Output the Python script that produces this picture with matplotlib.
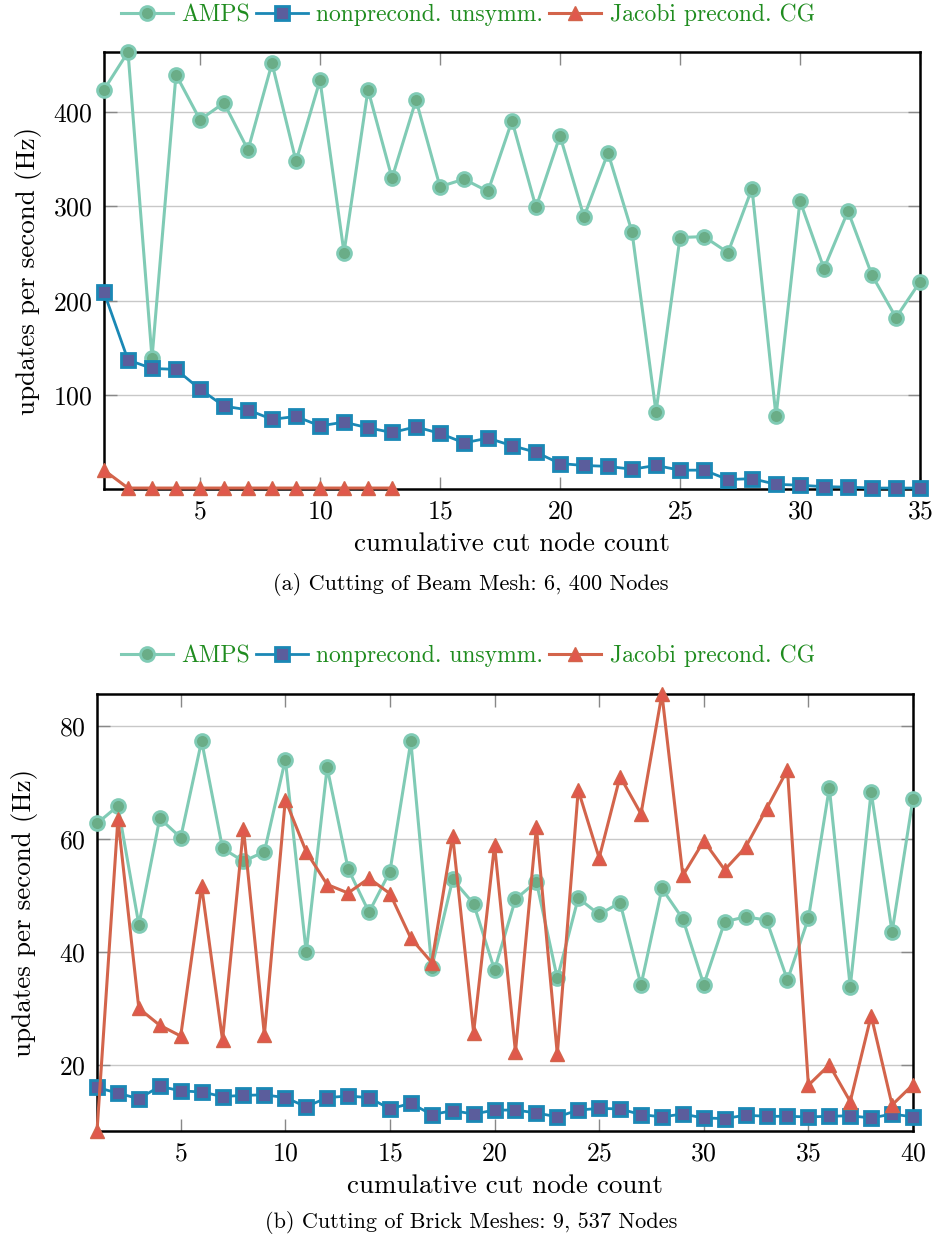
import matplotlib
matplotlib.use('Agg')
import matplotlib.pyplot as plt
import numpy as np

plt.rcParams['font.family'] = ['cmr10', 'DejaVu Serif']
plt.rcParams['mathtext.fontset'] = 'cm'
plt.rcParams['axes.formatter.use_mathtext'] = True

# (a) beam mesh, 6400 nodes
x_beam = np.arange(1, 36)
amps_beam = [424, 464, 139, 440, 392, 410, 360, 452, 348, 434,
             251, 424, 330, 413, 321, 329, 316, 391, 299, 375,
             289, 357, 273, 82, 267, 268, 251, 319, 77, 306,
             234, 295, 227, 182, 220]
unsym_beam = [209, 137, 128, 127, 106, 88, 84, 74, 77, 67,
              71, 65, 60, 66, 59, 49, 54, 46, 39, 27,
              25, 24, 21, 25, 20, 20, 10, 11, 5, 4,
              2.5, 2, 1, 1, 1]
x_beam_cg = np.arange(1, 14)
cg_beam = [20, 1, 1, 1, 1, 1, 1, 1, 1, 1, 1, 1, 1]

# (b) brick meshes, 9537 nodes
x_brick = np.arange(1, 41)
amps_brick = [62.7, 65.8, 44.8, 63.6, 60.2, 77.3, 58.3, 56.0, 57.7, 74.0,
              39.9, 72.6, 54.7, 47.0, 54.2, 77.2, 37.2, 52.8, 48.5, 36.8,
              49.3, 52.4, 35.3, 49.5, 46.6, 48.7, 34.1, 51.2, 45.8, 34.2,
              45.3, 46.2, 45.6, 35.0, 45.9, 69.0, 33.8, 68.3, 43.5, 67.1]
unsym_brick = [16.0, 15.0, 14.0, 16.2, 15.4, 15.2, 14.4, 14.6, 14.7, 14.2,
               12.6, 14.2, 14.5, 14.2, 12.2, 13.2, 11.2, 11.9, 11.3, 12.0,
               12.0, 11.5, 10.8, 12.0, 12.3, 12.2, 11.2, 10.8, 11.3, 10.6,
               10.5, 11.1, 10.9, 10.9, 10.8, 10.9, 11.0, 10.6, 11.3, 10.8]
cg_brick = [8.3, 63.5, 30.0, 27.0, 25.1, 51.6, 24.4, 61.8, 25.3, 66.9,
            57.7, 51.9, 50.4, 53.0, 50.3, 42.4, 38.1, 60.5, 25.7, 58.9,
            22.3, 62.0, 21.9, 68.6, 56.6, 71.0, 64.4, 85.6, 53.5, 59.6,
            54.5, 58.5, 65.3, 72.2, 16.4, 20.0, 13.5, 28.7, 12.9, 16.5]

labels = ['AMPS', 'nonprecond. unsymm.', 'Jacobi precond. CG']
xlabel = 'cumulative cut node count'
ylabel = 'updates per second (Hz)'
captions = ['(a) Cutting of Beam Mesh: 6, 400 Nodes',
            '(b) Cutting of Brick Meshes: 9, 537 Nodes']

c_amps, f_amps = '#80cbb5', '#6aad87'
c_uns, f_uns = '#1a88b5', '#5b5d9c'
c_cg, f_cg = '#d3644b', '#e0584c'
c_leg = '#1f8c1f'

fig = plt.figure(figsize=(9.33, 12.41), dpi=100)
ax1 = fig.add_axes([104/933, 1-489/1241, 816/933, 437/1241])
ax2 = fig.add_axes([97/933, 1-1131/1241, 816/933, 437/1241])


def draw(ax, x, a, u, xc, c, ypad):
    ax.plot(x, a, '-o', color=c_amps, lw=2.2, ms=10, mfc=f_amps, mec=c_amps, mew=2, label=labels[0], zorder=3, clip_on=False)
    ax.plot(x, u, '-s', color=c_uns, lw=2.0, ms=9.5, mfc=f_uns, mec=c_uns, mew=2, label=labels[1], zorder=4, clip_on=False)
    ax.plot(xc, c, '-^', color=c_cg, lw=2.2, ms=10, mfc=f_cg, mec=c_cg, mew=1, label=labels[2], zorder=5, clip_on=False)
    ax.grid(axis='y', color='#c8c8c8', lw=1.0)
    ax.set_axisbelow(True)
    ax.tick_params(direction='in', length=9, width=1, color='#888888', top=True, right=True,
                   labelsize=18.5, pad=8)
    for s in ax.spines.values():
        s.set_linewidth(1.8)
        s.set_zorder(2.5)
    ax.set_xlabel(xlabel, fontsize=19.5, labelpad=6)
    ax.set_ylabel(ylabel, fontsize=19.5, labelpad=ypad)


draw(ax1, x_beam, amps_beam, unsym_beam, x_beam_cg, cg_beam, 8)
ax1.set_xlim(1, 35)
ax1.set_ylim(0, max(amps_beam))
ax1.set_xticks([5, 10, 15, 20, 25, 30, 35])
ax1.set_yticks([100, 200, 300, 400])

draw(ax2, x_brick, amps_brick, unsym_brick, x_brick, cg_brick, 15)
ax2.set_xlim(1, 40)
ax2.set_ylim(min(cg_brick), max(cg_brick))
ax2.set_xticks([5, 10, 15, 20, 25, 30, 35, 40])
ax2.set_yticks([20, 40, 60, 80])

for ax, yl in [(ax1, 1-15/1241), (ax2, 1-656/1241)]:
    leg = ax.legend(loc='center', bbox_to_anchor=(468/933, yl), bbox_transform=fig.transFigure,
                    ncol=3, frameon=False, fontsize=17, handlelength=2.2, handletextpad=0.35,
                    columnspacing=0.25, borderaxespad=0)
    for t in leg.get_texts():
        t.set_color(c_leg)

fig.text(471/933, 1-584/1241, captions[0], ha='center', va='center', fontsize=16)
fig.text(471/933, 1-1222/1241, captions[1], ha='center', va='center', fontsize=16)

fig.savefig('out.png', dpi=100)
